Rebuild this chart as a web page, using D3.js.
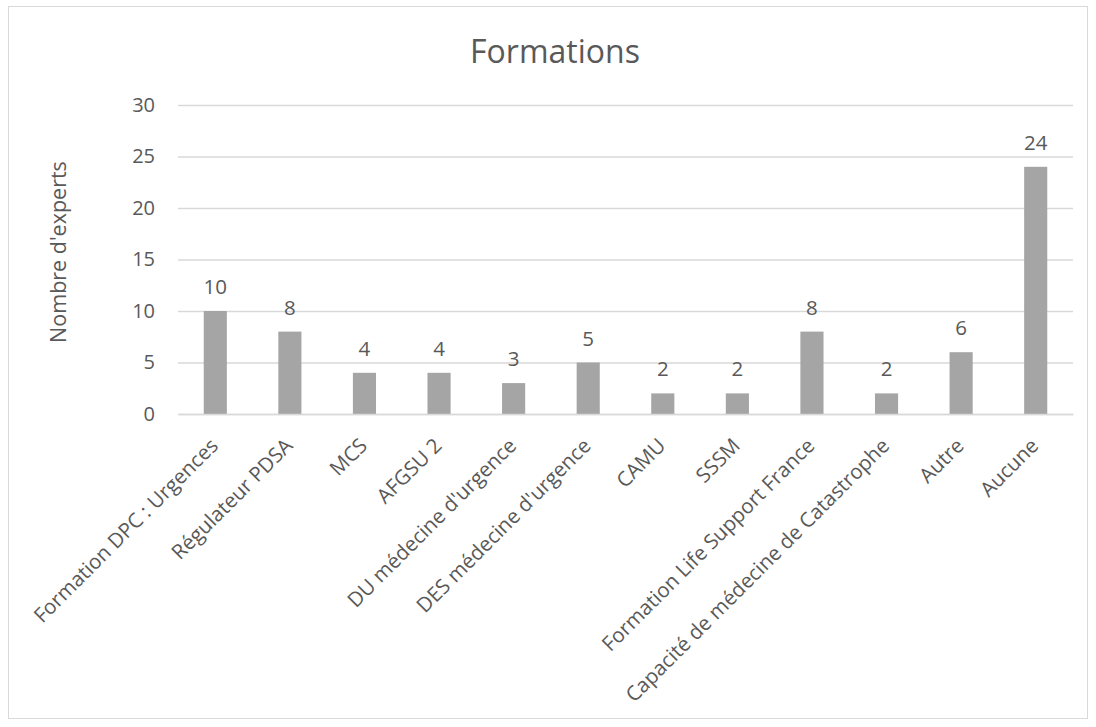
<!DOCTYPE html>
<html>
<head>
<meta charset="utf-8">
<script src="https://cdn.jsdelivr.net/npm/d3@7"></script>
<style>
  html, body { margin: 0; padding: 0; background: #fff; }
  svg { display: block; font-family: "Open Sans", "Segoe UI", sans-serif; }
</style>
</head>
<body>
<svg id="chart" width="1096" height="727"></svg>
<script>
// Training categories and number of experts per category
const categories = [
  "Formation DPC : Urgences",
  "Régulateur PDSA",
  "MCS",
  "AFGSU 2",
  "DU médecine d'urgence",
  "DES médecine d'urgence",
  "CAMU",
  "SSSM",
  "Formation Life Support France",
  "Capacité de médecine de Catastrophe",
  "Autre",
  "Aucune"
];
const values = [10, 8, 4, 4, 3, 5, 2, 2, 8, 2, 6, 24];
const yTicks = [0, 5, 10, 15, 20, 25, 30];
const chartTitle = "Formations";
const yTitle = "Nombre d'experts";

const svg = d3.select("#chart");
const W = 1096, H = 727;
const margin = { left: 178, right: 23, top: 105, bottom: 313 };
const textColor = "#595959";
const gridColor = "#d9d9d9";
const barColor = "#a5a5a5";

// chart frame
svg.append("rect")
  .attr("x", 8.5).attr("y", 6.5)
  .attr("width", W - 17).attr("height", H - 15)
  .attr("fill", "#fff").attr("stroke", gridColor).attr("stroke-width", 1);

const x = d3.scaleBand()
  .domain(categories)
  .range([margin.left, W - margin.right])
  .paddingInner(0.69).paddingOuter(0.345);

const y = d3.scaleLinear()
  .domain([0, 30])
  .range([H - margin.bottom, margin.top]);

// title
svg.append("text")
  .attr("x", 555).attr("y", 63)
  .attr("text-anchor", "middle")
  .attr("font-size", 32)
  .attr("fill", textColor)
  .text(chartTitle);

// y axis with horizontal gridlines
const yAxis = d3.axisLeft(y)
  .tickValues(yTicks)
  .tickSize(-(W - margin.right - margin.left))
  .tickPadding(23);

const gy = svg.append("g")
  .attr("transform", `translate(${margin.left},0)`)
  .call(yAxis);
gy.select(".domain").remove();
gy.selectAll(".tick line").attr("stroke", gridColor).attr("stroke-width", 1.5);
gy.selectAll(".tick text")
  .attr("fill", textColor)
  .attr("font-size", 20)
  .attr("font-family", "'Open Sans', sans-serif");

// y axis title
svg.append("text")
  .attr("transform", `translate(66,252) rotate(-90)`)
  .attr("text-anchor", "middle")
  .attr("font-size", 21.5)
  .attr("fill", textColor)
  .text(yTitle);

// bars
svg.append("g")
  .selectAll("rect")
  .data(values)
  .join("rect")
  .attr("x", (d, i) => x(categories[i]))
  .attr("y", d => y(d))
  .attr("width", x.bandwidth())
  .attr("height", d => y(0) - y(d))
  .attr("fill", barColor);

// value labels
svg.append("g")
  .selectAll("text")
  .data(values)
  .join("text")
  .attr("x", (d, i) => x(categories[i]) + x.bandwidth() / 2)
  .attr("y", d => y(d) - 17)
  .attr("text-anchor", "middle")
  .attr("font-size", 20.5)
  .attr("fill", textColor)
  .text(d => d);

// x axis with rotated category labels
const xAxis = d3.axisBottom(x).tickSize(0).tickPadding(0);
const gx = svg.append("g")
  .attr("transform", `translate(0,${y(0)})`)
  .call(xAxis);
gx.select(".domain").attr("stroke", gridColor).attr("stroke-width", 1.5);
gx.selectAll(".tick text")
  .attr("fill", textColor)
  .attr("font-size", 20.5)
  .attr("font-family", "'Open Sans', sans-serif")
  .attr("text-anchor", "end")
  .attr("dy", 0)
  .attr("transform", "translate(4,33) rotate(-45)");
</script>
</body>
</html>
